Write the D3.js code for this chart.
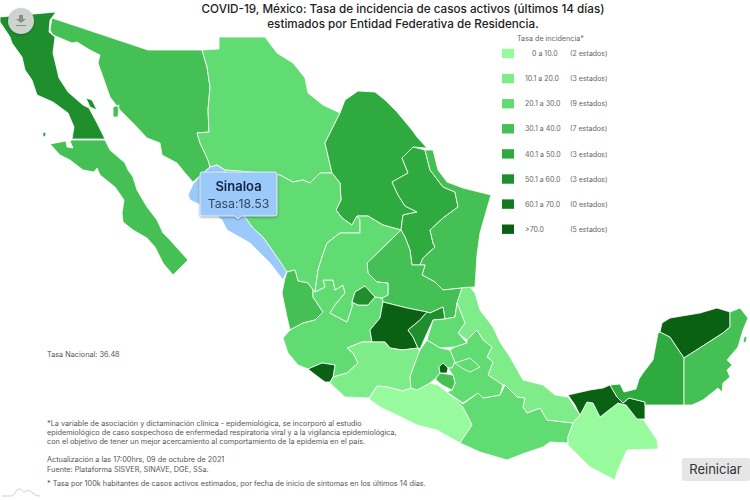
<!DOCTYPE html>
<html>
<head>
<meta charset="utf-8">
<script src="https://cdnjs.cloudflare.com/ajax/libs/d3/7.8.5/d3.min.js"></script>
<style>
  html, body { margin: 0; padding: 0; background: #fff; overflow: hidden; }
  text { font-family: "Inter", "Open Sans", sans-serif; }
</style>
</head>
<body>
<script>
// tasa de incidencia (only Sinaloa is printed, the rest is the class of its colour)
var stateNames = ["Baja California","Baja California Sur","Sonora","Chihuahua","Coahuila","Nuevo León","Tamaulipas",
  "Sinaloa","Durango","Nayarit","San Luis Potosí","Jalisco","Zacatecas","Aguascalientes","Guanajuato","Querétaro",
  "Colima","Michoacán","Guerrero","Oaxaca","Veracruz","Hidalgo","México","Puebla","Tlaxcala","Morelos",
  "Ciudad de México","Chiapas","Tabasco","Campeche","Yucatán","Quintana Roo"];
var stateRates = [56,35,36,26,45,44,35,18.53,27,36,34,25,24,55,75,53,78,16,7,24,17,26,25,27,28,33,72,6,85,43,90,37];

var stateOutlines = {
  "Baja California": [[[0,17],[56,12],[50,20],[49,32],[55,37],[53,53],[59,78],[68,92],[83,105],[89,108],[97,123],[105,139],[72,139],[74,127],[68,113],[53,102],[37,95],[32,80],[25,70],[22,57],[12,43],[10,37],[0,22]],
    [[86,98],[92,100],[97,110],[90,107]], [[43,132],[46,133],[45,137],[43,136]]],
  "Baja California Sur": [[[50,144],[66,141],[67,147],[73,148],[70,141],[72,140],[105,140],[110,150],[125,163],[128,170],[133,177],[137,190],[147,207],[157,220],[163,233],[170,240],[188,260],[173,275],[163,263],[155,247],[147,238],[133,230],[123,222],[122,213],[124,200],[115,187],[100,175],[97,168],[94,172],[83,170],[70,160],[60,155]]],
  "Sonora": [[[52,18],[148,50],[202,50],[207,67],[210,87],[208,110],[209,132],[197,133],[200,143],[208,160],[210,167],[203,173],[193,182],[185,173],[177,163],[162,155],[160,143],[147,138],[133,123],[120,110],[110,97],[103,77],[98,63],[100,55],[90,50],[77,42],[72,43],[53,35],[50,30]],
    [[113,107],[119,105],[118,117],[113,117]]],
  "Chihuahua": [[[202,50],[219,49],[219,37],[265,37],[277,53],[293,63],[305,78],[308,93],[323,105],[340,113],[325,143],[332,173],[320,173],[310,183],[303,180],[293,182],[280,175],[250,172],[225,170],[217,165],[210,167],[208,160],[200,143],[197,133],[209,132],[208,110],[210,87],[207,67]]],
  "Coahuila": [[[340,113],[345,100],[358,91],[375,92],[385,100],[397,112],[412,130],[417,137],[427,148],[413,147],[402,158],[408,173],[392,182],[398,195],[405,206],[417,212],[403,215],[401,230],[383,225],[368,216],[357,216],[352,225],[342,218],[336,210],[341,200],[340,183],[332,173],[325,143]]],
  "Nuevo León": [[[413,147],[425,150],[430,170],[443,187],[455,192],[458,207],[443,218],[430,230],[433,243],[435,247],[423,258],[420,265],[412,265],[410,250],[405,237],[401,230],[403,215],[417,212],[405,206],[398,195],[392,182],[408,173],[402,158]]],
  "Tamaulipas": [[[425,150],[433,150],[438,170],[447,182],[463,188],[491,195],[488,205],[480,233],[477,255],[475,287],[462,288],[443,290],[435,282],[422,275],[425,265],[420,265],[423,258],[435,247],[433,243],[430,230],[443,218],[458,207],[455,192],[443,187],[430,170]]],
  "Sinaloa": [[[217,165],[225,170],[235,190],[245,217],[253,228],[263,237],[277,257],[287,271],[283,280],[270,263],[250,243],[227,230],[222,220],[205,207],[190,200],[188,195],[193,184],[203,173],[210,167]]],
  "Durango": [[[225,170],[250,172],[280,175],[293,182],[303,180],[310,183],[320,173],[332,173],[340,183],[341,200],[336,210],[342,218],[352,225],[357,216],[360,220],[360,233],[340,233],[327,243],[322,257],[318,270],[315,292],[313,290],[308,283],[298,281],[295,270],[287,272],[277,257],[263,237],[253,228],[245,217],[235,190]]],
  "Nayarit": [[[287,272],[295,270],[298,281],[308,283],[313,290],[313,297],[323,312],[315,320],[303,323],[290,330],[287,317],[282,293],[285,278]]],
  "San Luis Potosí": [[[401,230],[367,263],[368,273],[377,282],[388,283],[388,295],[382,298],[383,302],[407,308],[427,312],[430,313],[443,307],[445,319],[455,317],[457,303],[462,288],[443,290],[435,282],[422,275],[425,265],[412,265],[410,250],[405,237]]],
  "Jalisco": [[[313,290],[315,292],[325,287],[323,280],[333,280],[335,290],[343,285],[345,293],[335,305],[330,313],[347,322],[352,307],[352,302],[358,305],[368,305],[375,297],[382,298],[383,302],[380,318],[370,330],[372,342],[362,342],[347,348],[353,353],[358,363],[347,373],[333,377],[335,365],[322,363],[308,369],[298,365],[288,353],[283,338],[290,330],[303,323],[315,320],[323,312],[313,297]]],
  "Zacatecas": [[[357,216],[368,216],[383,225],[401,230],[367,263],[368,273],[377,282],[388,283],[388,295],[382,298],[375,297],[365,286],[355,292],[352,302],[352,307],[347,322],[330,313],[335,305],[345,293],[343,285],[335,290],[333,280],[323,280],[325,287],[315,292],[318,270],[322,257],[327,243],[340,233],[360,233],[360,220]]],
  "Aguascalientes": [[[352,302],[355,292],[365,286],[375,297],[368,305],[358,305]]],
  "Guanajuato": [[[383,302],[407,308],[427,312],[420,320],[408,330],[413,337],[418,348],[402,350],[390,348],[385,342],[372,342],[370,330],[380,318]]],
  "Querétaro": [[[430,313],[443,307],[445,319],[433,320],[427,333],[420,349],[418,348],[413,337],[408,330],[420,320],[427,312]]],
  "Colima": [[[308,369],[322,363],[335,365],[333,377],[330,382],[325,382],[313,373]]],
  "Michoacán": [[[347,348],[362,342],[372,342],[385,342],[390,348],[402,350],[418,348],[420,352],[415,363],[410,377],[411,388],[403,391],[387,387],[377,386],[369,398],[345,397],[330,383],[333,377],[347,373],[358,363],[353,353]]],
  "Guerrero": [[[369,399],[377,386],[387,387],[403,391],[411,388],[417,390],[430,383],[438,385],[447,392],[463,405],[472,425],[460,443],[437,430],[417,425],[403,418],[380,407]]],
  "Oaxaca": [[[447,392],[463,404],[478,393],[483,398],[500,395],[505,385],[517,397],[525,398],[523,407],[527,413],[540,408],[547,420],[573,423],[568,437],[568,443],[550,442],[543,447],[525,453],[507,460],[480,452],[460,443],[472,425],[463,407]]],
  "Veracruz": [[[462,288],[470,287],[475,293],[480,310],[493,327],[500,342],[510,357],[523,380],[543,385],[555,395],[568,397],[580,415],[573,423],[547,420],[540,408],[527,413],[523,407],[525,398],[517,397],[505,385],[503,385],[488,375],[493,362],[487,357],[492,347],[483,340],[477,330],[467,340],[458,333],[465,323],[457,303]]],
  "Hidalgo": [[[445,319],[455,317],[457,303],[465,323],[458,333],[467,343],[455,347],[440,348],[427,340],[433,320]]],
  "México": [[[427,340],[440,348],[450,350],[455,362],[452,368],[448,368],[443,363],[439,367],[440,373],[436,378],[430,383],[417,390],[411,388],[410,377],[415,363],[420,350]]],
  "Puebla": [[[467,340],[477,330],[483,340],[492,347],[487,357],[493,362],[488,375],[503,385],[500,395],[483,398],[478,393],[463,403],[447,392],[452,390],[455,383],[453,375],[448,368],[452,368],[455,362],[450,350],[455,347],[467,343]]],
  "Tlaxcala": [[[455,363],[470,358],[480,367],[470,372],[462,368]]],
  "Morelos": [[[436,378],[440,373],[453,375],[455,383],[452,390],[442,385],[436,380]]],
  "Ciudad de México": [[[439,367],[443,363],[448,368],[447,373],[440,373]]],
  "Chiapas": [[[568,437],[573,423],[580,415],[587,402],[593,403],[600,417],[618,403],[626,405],[637,419],[643,419],[657,440],[658,449],[627,450],[617,472],[615,480],[590,467],[568,445]]],
  "Tabasco": [[[568,395],[590,390],[603,388],[610,385],[617,397],[623,403],[629,398],[645,402],[645,419],[637,419],[626,405],[618,403],[600,417],[593,403],[587,402],[580,415],[575,405]]],
  "Campeche": [[[660,332],[670,337],[684,358],[684,405],[645,405],[645,402],[629,398],[623,403],[617,397],[610,385],[620,384],[624,392],[636,389],[639,379],[643,373],[653,360],[658,333]]],
  "Yucatán": [[[660,332],[662,323],[670,318],[700,313],[717,308],[730,312],[730,327],[723,333],[684,358],[670,337]]],
  "Quintana Roo": [[[730,312],[740,308],[748,318],[743,330],[738,347],[727,360],[732,365],[727,370],[730,377],[723,383],[722,392],[718,388],[703,400],[692,405],[684,405],[684,358],[723,333],[730,327]],
    [[744,337],[747,336],[746,342],[743,343]]]
};

var classBreaks = [10, 20, 30, 40, 50, 60, 70];
var classColors = ["#97fb9e", "#7fec8a", "#61dc72", "#45c055", "#2eaa3e", "#1f8f2e", "#117a20", "#0b6113"];
var classLabels = ["0 a 10.0", "10.1 a 20.0", "20.1 a 30.0", "30.1 a 40.0", "40.1 a 50.0", "50.1 a 60.0", "60.1 a 70.0", ">70.0"];
var highlighted = "Sinaloa";
var nationalRate = 36.48;

var titleLines = ["COVID-19, México: Tasa de incidencia de casos activos (últimos 14 días)",
                  "estimados por Entidad Federativa de Residencia."];
var noteLines = ["*La variable de asociación y dictaminación clínica - epidemiológica, se incorporó al estudio",
                 "epidemiológico de caso sospechoso de enfermedad respiratoria viral y a la vigilancia epidemiológica,",
                 "con el objetivo de tener un mejor acercamiento al comportamiento de la epidemia en el país."];
var sourceLines = ["Actualización a las 17:00hrs, 09 de octubre de 2021", "Fuente: Plataforma SISVER, SINAVE, DGE, SSa."];
var rateNote = "* Tasa por 100k habitantes de casos activos estimados, por fecha de inicio de síntomas en los últimos 14 días.";

var svg = d3.select("body").append("svg").attr("width", 750).attr("height", 500);

var color = d3.scaleThreshold().domain(classBreaks).range(classColors);
var path = d3.geoPath(d3.geoIdentity());

var features = stateNames.map(function(name, i) {
  return { type: "Feature", properties: { name: name, rate: stateRates[i] },
           geometry: { type: "MultiPolygon", coordinates: stateOutlines[name].map(function(r) { return [r.concat([r[0]])]; }) } };
});

svg.append("g").selectAll("path").data(features).join("path")
  .attr("d", path)
  .attr("fill", function(d) { return d.properties.name === highlighted ? "#9ac9fa" : color(d.properties.rate); })
  .attr("stroke", "#fff").attr("stroke-width", 0.8).attr("stroke-linejoin", "round");

// title
svg.append("g").selectAll("text").data(titleLines).join("text")
  .attr("x", 403).attr("y", function(d, i) { return 13 + i * 15; })
  .attr("text-anchor", "middle").attr("font-size", 11.7).attr("font-weight", 500).attr("fill", "#222")
  .text(function(d) { return d; });

// legend
var legend = svg.append("g");
legend.append("text").attr("x", 517).attr("y", 41).attr("font-size", 7.2).attr("fill", "#666").text("Tasa de incidencia*");
var rows = legend.selectAll("g").data(classLabels).join("g")
  .attr("transform", function(d, i) { return "translate(0," + (53.5 + i * 25.1) + ")"; });
rows.append("rect").attr("x", 502).attr("y", -4.7).attr("width", 12).attr("height", 9.4)
  .attr("fill", function(d, i) { return classColors[i]; });
rows.append("text").attr("y", 2.6).attr("font-size", 7).attr("fill", "#666")
  .attr("x", function(d, i) { return i === 0 ? 532 : 525; })
  .text(function(d) { return d; });
rows.append("text").attr("x", 570).attr("y", 2.6).attr("font-size", 7).attr("fill", "#666")
  .text(function(d, i) {
    var n = stateRates.filter(function(r) { return classColors.indexOf(color(r)) === i; }).length;
    return "(" + n + " estados)";
  });

// texts at the left
var notes = svg.append("g").attr("font-size", 7.3).attr("fill", "#555");
notes.append("text").attr("x", 47).attr("y", 357).text("Tasa Nacional: " + nationalRate);
notes.selectAll(".n").data(noteLines).join("text").attr("class", "n")
  .attr("x", 47).attr("y", function(d, i) { return 426 + i * 9; }).text(function(d) { return d; });
notes.selectAll(".s").data(sourceLines).join("text").attr("class", "s")
  .attr("x", 47).attr("y", function(d, i) { return 462 + i * 10; }).text(function(d) { return d; });
notes.append("text").attr("x", 47).attr("y", 486).text(rateNote);

// tooltip over Sinaloa
var tip = svg.append("g").style("filter", "drop-shadow(0 1px 1px rgba(0,0,0,.35))");
tip.append("path")
  .attr("d", "M202,172 H275 a2,2 0 0 1 2,2 V214 a2,2 0 0 1 -2,2 H241 L238,219 L235,216 H202 a2,2 0 0 1 -2,-2 V174 a2,2 0 0 1 2,-2 Z")
  .attr("fill", "#9ac9fa").attr("stroke", "#e4f0fb").attr("stroke-width", 1);
tip.append("text").attr("x", 238.5).attr("y", 190.5).attr("text-anchor", "middle")
  .attr("font-size", 13).attr("font-weight", 600).attr("fill", "#12233f").text(highlighted);
tip.append("text").attr("x", 238.5).attr("y", 208).attr("text-anchor", "middle")
  .attr("font-size", 12.3).attr("fill", "#33475f").text("Tasa:" + stateRates[stateNames.indexOf(highlighted)]);

// download button
var btn = svg.append("g").style("filter", "drop-shadow(0 1px 1px rgba(0,0,0,.25))");
btn.append("circle").attr("cx", 21).attr("cy", 21).attr("r", 13).attr("fill", "#cfd3cf");
btn.append("path").attr("d", "M19,15 h4 v4 h3 l-5,4 l-5,-4 h3 Z").attr("fill", "#8a8d8a");
btn.append("rect").attr("x", 16).attr("y", 25).attr("width", 10).attr("height", 1).attr("fill", "#8a8d8a");

// reset button
svg.append("rect").attr("x", 682).attr("y", 458).attr("width", 68).attr("height", 23).attr("rx", 2).attr("fill", "#e6e6e6");
svg.append("text").attr("x", 715.5).attr("y", 474).attr("text-anchor", "middle").attr("font-size", 13).attr("fill", "#333").text("Reiniciar");

// logo at the bottom
svg.append("path").attr("d", "M2,496 H11 C15,496 16,489 19,489 C22,489 23,493 25,492 C27,490 28,490 30,491 C33,492 34,496 40,496")
  .attr("fill", "none").attr("stroke", "#bbb").attr("stroke-width", 0.7);
</script>
</body>
</html>
